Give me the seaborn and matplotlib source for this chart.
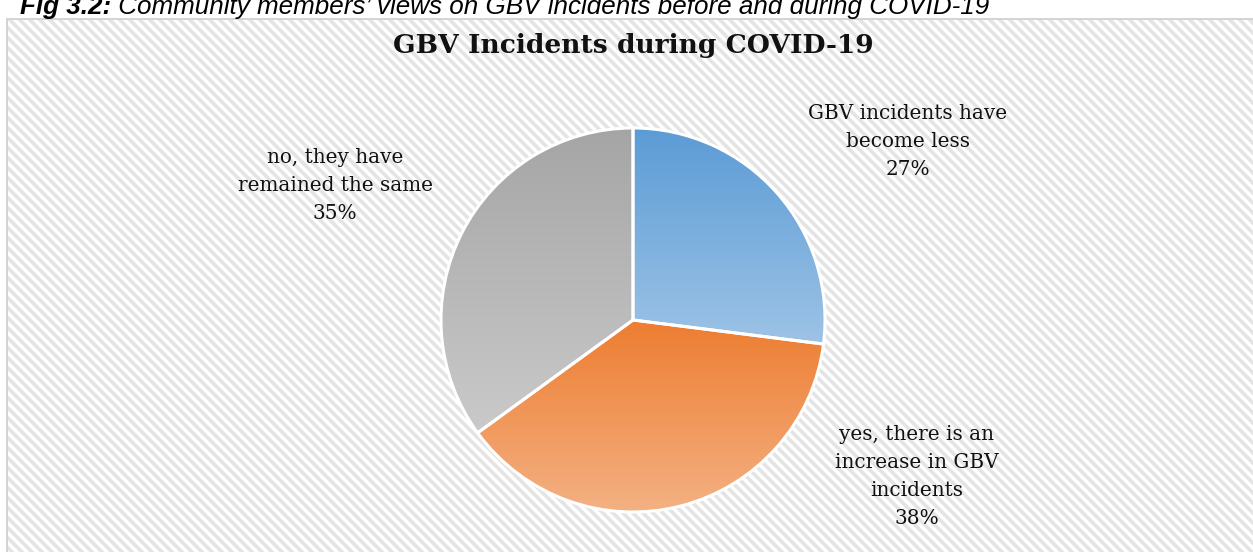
import numpy as np
import matplotlib
matplotlib.use("Agg")
import matplotlib.pyplot as plt
from matplotlib.patches import Rectangle
from matplotlib.colors import LinearSegmentedColormap
import seaborn as sns

# ---- data ----
categories = ["GBV incidents have\nbecome less",
              "yes, there is an\nincrease in GBV\nincidents",
              "no, they have\nremained the same"]
values = [27, 38, 35]
pct_labels = ["27%", "38%", "35%"]
top_colors = ["#5B9BD5", "#ED7D31", "#A5A5A5"]
bottom_colors = ["#9DC3E6", "#F4B183", "#CACACA"]
title = "GBV Incidents during COVID-19"
caption_bold = "Fig 3.2:"
caption_rest = " Community members\u2019 views on GBV incidents before and during COVID-19"

sns.set_theme(style="white")

DPI = 120
def fs(px):
    return px * 72.0 / DPI

plt.rcParams["hatch.linewidth"] = fs(3.6)

W, H = 1253, 552
fig = plt.figure(figsize=(W / DPI, H / DPI), dpi=DPI)
fig.patch.set_facecolor("white")

# hatched chart-area background
bg = Rectangle((7 / W, -0.05), 1.1, (H - 19) / H + 0.05, transform=fig.transFigure,
               facecolor="white", edgecolor="#E4E4E4", hatch="\\\\\\\\", linewidth=0, zorder=-2)
fig.patches.append(bg)
border = Rectangle((7 / W, -0.05), 1.1, (H - 19) / H + 0.05, transform=fig.transFigure,
                   facecolor="none", edgecolor="#D4D4D4", linewidth=fs(2), zorder=-1)
fig.patches.append(border)

# caption (partly cut at top, as in the reference)
base_y = 1 - 14 / H
t1 = fig.text(20 / W, base_y, caption_bold, fontsize=fs(26), fontweight="bold", fontstyle="italic",
              family="Liberation Sans", color="black", va="baseline", ha="left")
fig.canvas.draw()
r = fig.canvas.get_renderer()
bb = t1.get_window_extent(r)
fig.text(bb.x1 / W, base_y, caption_rest, fontsize=fs(26), fontstyle="italic",
         family="Liberation Sans", color="black", va="baseline", ha="left")

# pie axes
R = 192.0
cx, cy = 633.0, 320.0
lim = 1.2
side = 2 * lim * R
ax = fig.add_axes([(cx - side / 2) / W, (H - cy - side / 2) / H, side / W, side / H])
ax.set_zorder(3)
ax.set_facecolor("none")
ax.patch.set_alpha(0)
wedges, _ = ax.pie(values, startangle=90, counterclock=False, colors=top_colors,
                   wedgeprops=dict(edgecolor="white", linewidth=fs(3)))
ax.set_xlim(-lim, lim)
ax.set_ylim(-lim, lim)
ax.set_aspect("equal")
ax.axis("off")

# gradient fill per wedge
for w, c0, c1 in zip(wedges, top_colors, bottom_colors):
    path = w.get_path().transformed(w.get_patch_transform())
    ext = path.get_extents()
    cmap = LinearSegmentedColormap.from_list("g", [c0, c1])
    grad = np.linspace(0, 1, 256).reshape(-1, 1)
    im = ax.imshow(grad, cmap=cmap, aspect="auto",
                   extent=[ext.x0, ext.x1, ext.y0, ext.y1], origin="upper", zorder=1,
                   interpolation="bilinear")
    im.set_clip_path(w)
    w.set_facecolor("none")
    w.set_zorder(2)
ax.set_xlim(-lim, lim)
ax.set_ylim(-lim, lim)

# labels
font = "DejaVu Serif"
label_pos = [(1.432, 0.93), (1.479, -0.815), (-1.552, 0.70)]
for (x, y), cat, p in zip(label_pos, categories, pct_labels):
    ax.text(x, y, cat + "\n" + p, ha="center", va="center", fontsize=fs(20),
            family=font, color="#111111", linespacing=1.6, clip_on=False)

fig.text(633 / W, 1 - 46 / H, title, ha="center", va="center", fontsize=fs(26.5),
         fontweight="bold", family=font, color="#111111")

fig.savefig("out.png", dpi=DPI)
